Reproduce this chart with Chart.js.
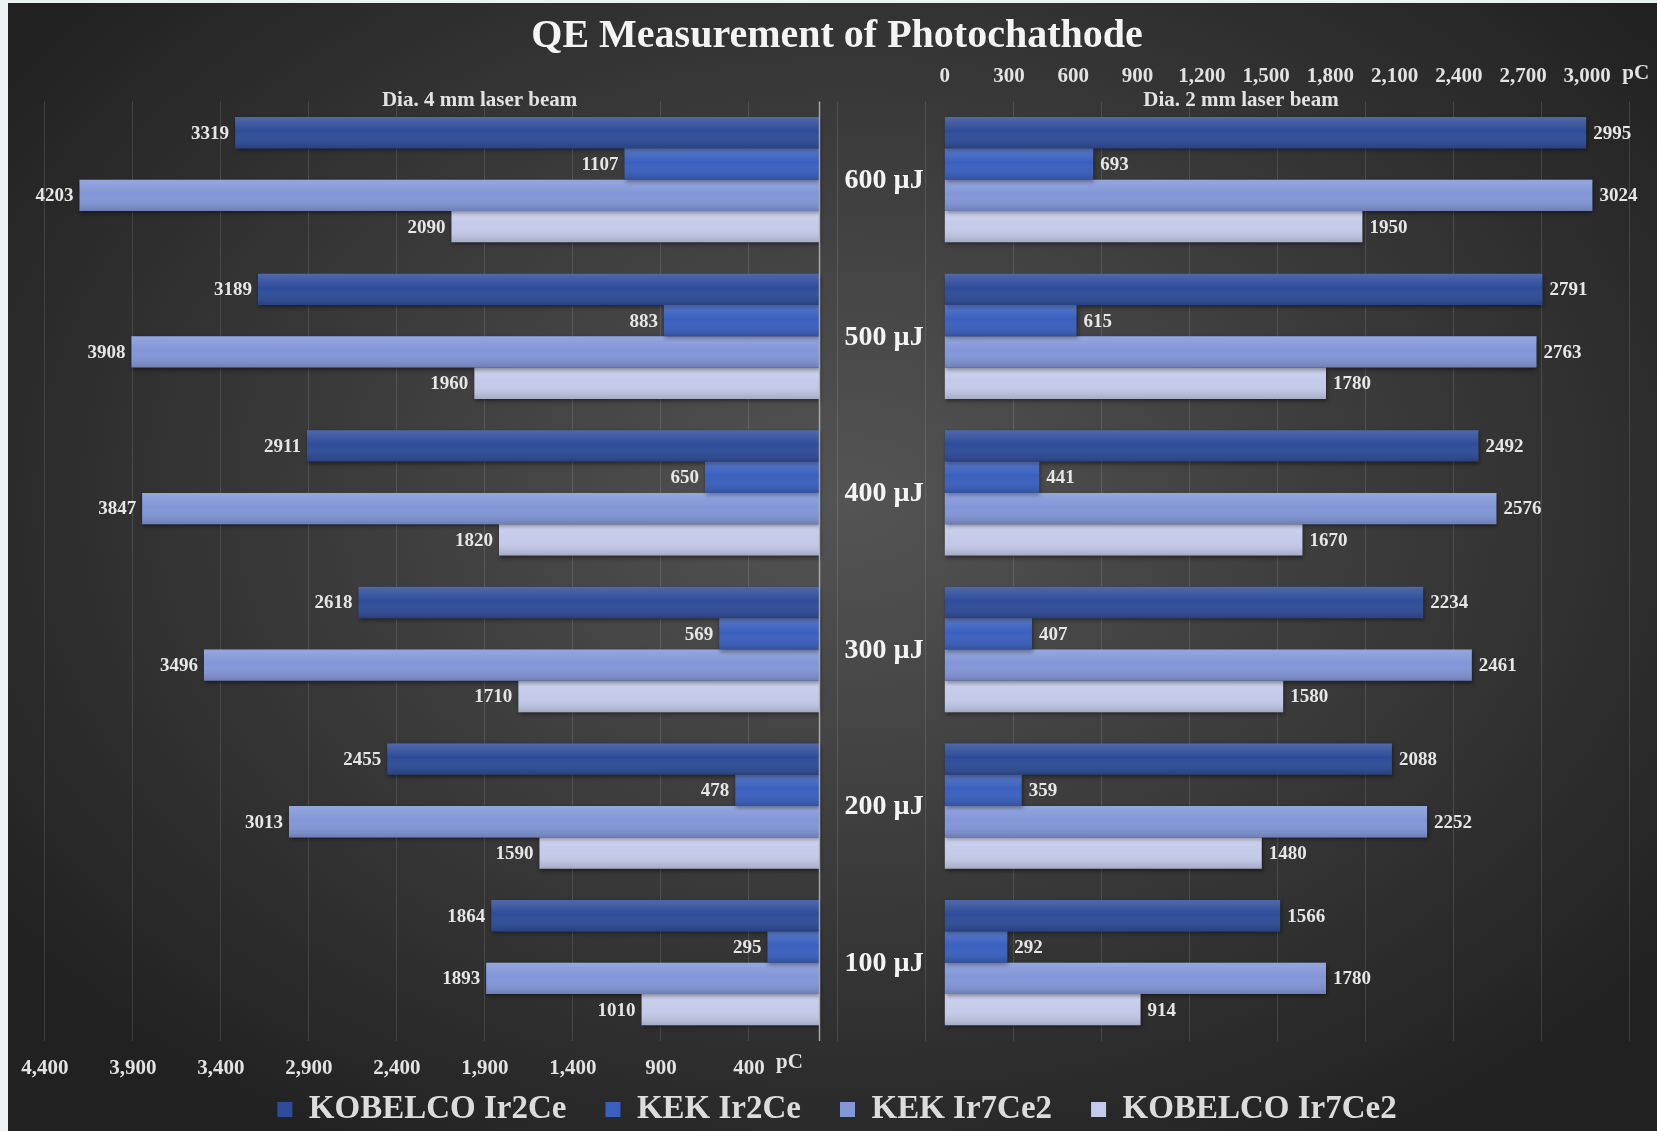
<!DOCTYPE html>
<html>
<head>
<meta charset="utf-8">
<title>QE Measurement of Photochathode</title>
<script src="https://cdn.jsdelivr.net/npm/chart.js@4.4.0/dist/chart.umd.min.js"></script>
<style>
  html, body { margin: 0; padding: 0; background: #edf2f2; }
  canvas { display: block; }
</style>
</head>
<body>
<canvas id="qe-chart" width="1657" height="1131"></canvas>
<script>
const energies = ['600 µJ', '500 µJ', '400 µJ', '300 µJ', '200 µJ', '100 µJ'];
const seriesNames = ['KOBELCO Ir2Ce', 'KEK Ir2Ce', 'KEK Ir7Ce2', 'KOBELCO Ir7Ce2'];
const seriesColors = ['#2e4c99', '#3a60bf', '#8296d8', '#c4cbea'];

// charge in pC, Dia. 4 mm laser beam
const kobelcoIr2Ce_4mm = [3319, 3189, 2911, 2618, 2455, 1864];
const kekIr2Ce_4mm = [1107, 883, 650, 569, 478, 295];
const kekIr7Ce2_4mm = [4203, 3908, 3847, 3496, 3013, 1893];
const kobelcoIr7Ce2_4mm = [2090, 1960, 1820, 1710, 1590, 1010];

// charge in pC, Dia. 2 mm laser beam
const kobelcoIr2Ce_2mm = [2995, 2791, 2492, 2234, 2088, 1566];
const kekIr2Ce_2mm = [693, 615, 441, 407, 359, 292];
const kekIr7Ce2_2mm = [3024, 2763, 2576, 2461, 2252, 1780];
const kobelcoIr7Ce2_2mm = [1950, 1780, 1670, 1580, 1480, 914];

const ticks4mm = [400, 900, 1400, 1900, 2400, 2900, 3400, 3900, 4400];
const ticks2mm = [0, 300, 600, 900, 1200, 1500, 1800, 2100, 2400, 2700, 3000];

const SERIF = "'Liberation Serif', 'Times New Roman', serif";
const tickFont = { family: SERIF, size: 21, weight: 'bold' };

const left = [kobelcoIr2Ce_4mm, kekIr2Ce_4mm, kekIr7Ce2_4mm, kobelcoIr7Ce2_4mm];
const right = [kobelcoIr2Ce_2mm, kekIr2Ce_2mm, kekIr7Ce2_2mm, kobelcoIr7Ce2_2mm];

const datasets = [];
left.forEach((d, i) => datasets.push({
  label: seriesNames[i], data: d, xAxisID: 'xL', stack: 's' + i,
  backgroundColor: seriesColors[i]
}));
right.forEach((d, i) => datasets.push({
  label: seriesNames[i], data: d, xAxisID: 'xR', stack: 's' + i,
  backgroundColor: seriesColors[i]
}));

// dark vignette behind everything
const backdrop = {
  id: 'backdrop',
  beforeDraw(chart) {
    const { ctx, width, height } = chart;
    ctx.save();
    ctx.fillStyle = '#edf2f2';
    ctx.fillRect(0, 0, width, height);
    const cx = 850, cy = 500, sy = 0.72;
    ctx.translate(cx, cy);
    ctx.scale(1, sy);
    const g = ctx.createRadialGradient(0, 0, 0, 0, 0, 1050);
    g.addColorStop(0, '#545454');
    g.addColorStop(1, '#212121');
    ctx.fillStyle = g;
    ctx.fillRect(8 - cx, (3 - cy) / sy, width, height / sy);
    ctx.restore();
  }
};

// the bottom axis is kept thin so the legend can sit close under it;
// let its labels draw below the box instead of being clipped
const axisClip = {
  id: 'axisClip',
  afterLayout(chart) {
    chart.scales.xL.bottom = chart.height;
  }
};

const barShadow = {
  id: 'barShadow',
  beforeDatasetsDraw(chart) {
    const ctx = chart.ctx;
    ctx.save();
    ctx.shadowColor = 'rgba(0,0,0,0.45)';
    ctx.shadowBlur = 4;
    ctx.shadowOffsetX = 1;
    ctx.shadowOffsetY = 2;
  },
  afterDatasetsDraw(chart) {
    const ctx = chart.ctx;
    ctx.restore();

    // soft top highlight / bottom shade on each bar
    chart.data.datasets.forEach((ds, i) => {
      chart.getDatasetMeta(i).data.forEach(bar => {
        const { x, y, base, height } = bar.getProps(['x', 'y', 'base', 'height'], true);
        const top = y - height / 2;
        const g = ctx.createLinearGradient(0, top, 0, top + height);
        g.addColorStop(0, 'rgba(255,255,255,0.16)');
        g.addColorStop(0.45, 'rgba(255,255,255,0)');
        g.addColorStop(1, 'rgba(0,0,0,0.16)');
        ctx.fillStyle = g;
        ctx.fillRect(Math.min(x, base), top, Math.abs(x - base), height);
      });
    });

    // axis line where the 4 mm bars start
    const xL = chart.scales.xL, area = chart.chartArea;
    const x0 = Math.round(xL.getPixelForValue(0)) + 0.5;
    ctx.save();
    ctx.strokeStyle = 'rgba(185,185,185,0.85)';
    ctx.lineWidth = 1.5;
    ctx.beginPath();
    ctx.moveTo(x0, area.top);
    ctx.lineTo(x0, area.bottom);
    ctx.stroke();

    // value labels at the bar ends
    ctx.font = 'bold 19px ' + SERIF;
    ctx.fillStyle = '#e6e6e6';
    ctx.textBaseline = 'middle';
    chart.data.datasets.forEach((ds, i) => {
      const toLeft = ds.xAxisID === 'xL';
      ctx.textAlign = toLeft ? 'right' : 'left';
      chart.getDatasetMeta(i).data.forEach((bar, j) => {
        ctx.fillText(String(ds.data[j]), bar.x + (toLeft ? -6 : 7), bar.y + 1);
      });
    });
    ctx.restore();
  }
};

const annotations = {
  id: 'annotations',
  afterDraw(chart) {
    const { ctx, scales } = chart;
    const xL = scales.xL, xR = scales.xR, y = scales.y;
    ctx.save();
    ctx.textBaseline = 'middle';

    // energy labels between the two halves
    ctx.font = 'bold 28px ' + SERIF;
    ctx.fillStyle = '#f4f4f4';
    ctx.textAlign = 'center';
    const cx = (xL.getPixelForValue(0) + xR.getPixelForValue(0)) / 2 + 2;
    energies.forEach((e, i) => ctx.fillText(e, cx, y.getPixelForTick(i) + 1));

    // beam size captions
    ctx.font = 'bold 21px ' + SERIF;
    ctx.fillStyle = '#e2e2e2';
    ctx.fillText('Dia. 4 mm laser beam', xL.getPixelForValue(1930), 101);
    ctx.fillText('Dia. 2 mm laser beam', xR.getPixelForValue(1383), 101);

    // units after the last tick labels
    ctx.font = 'bold 21px ' + SERIF;
    ctx.textAlign = 'left';
    ctx.fillText('pC', xL.getPixelForValue(400) + 27, 1063);
    ctx.fillText('pC', xR.getPixelForValue(3000) + 35, 74);
    ctx.restore();
  }
};

new Chart(document.getElementById('qe-chart'), {
  type: 'bar',
  data: { labels: energies, datasets: datasets },
  plugins: [backdrop, axisClip, barShadow, annotations],
  options: {
    indexAxis: 'y',
    responsive: false,
    animation: false,
    devicePixelRatio: 1,
    barPercentage: 1.0,
    categoryPercentage: 0.8,
    layout: { padding: { left: 36, right: 19, top: 0, bottom: -5 } },
    plugins: {
      title: {
        display: true,
        text: 'QE Measurement of Photochathode',
        color: '#f4f4f4',
        font: { family: SERIF, size: 40, weight: 'bold' },
        padding: { top: 13, bottom: 0 }
      },
      legend: {
        position: 'bottom',
        labels: {
          color: '#dcdcdc',
          font: { family: SERIF, size: 33, weight: 'bold' },
          boxWidth: 15,
          boxHeight: 15,
          padding: 39,
          filter: item => item.datasetIndex < 4
        }
      },
      tooltip: { enabled: false }
    },
    scales: {
      y: { display: false },
      xL: {
        type: 'linear',
        position: 'bottom',
        reverse: true,
        min: -4650,
        max: 4450,
        stacked: false,
        afterBuildTicks: s => {
          const t = [];
          for (let v = -4600; v <= 4400; v += 500) t.push({ value: v });
          s.ticks = t;
        },
        ticks: {
          autoSkip: false,
          maxRotation: 0,
          padding: 15,
          color: '#e2e2e2',
          font: tickFont,
          callback: v => ticks4mm.includes(v) ? v.toLocaleString('en-US') : ''
        },
        grid: { color: 'rgba(255,255,255,0.12)', drawTicks: false },
        border: { display: false },
        afterFit: s => { s.height = 13; }
      },
      xR: {
        type: 'linear',
        position: 'top',
        min: -4244,
        max: 3237,
        stacked: false,
        afterBuildTicks: s => { s.ticks = ticks2mm.map(v => ({ value: v })); },
        ticks: {
          autoSkip: false,
          maxRotation: 0,
          padding: 12,
          color: '#e2e2e2',
          font: tickFont,
          callback: v => v.toLocaleString('en-US')
        },
        grid: { display: false, drawTicks: false },
        border: { display: false },
        afterFit: s => { s.height = 40.4; }
      }
    }
  }
});
</script>
</body>
</html>
